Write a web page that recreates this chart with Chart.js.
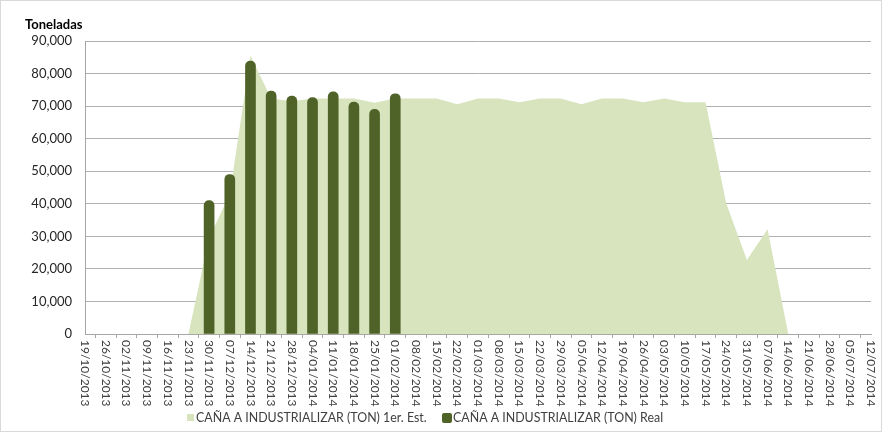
<!DOCTYPE html>
<html>
<head>
<meta charset="utf-8">
<script src="https://cdn.jsdelivr.net/npm/chart.js@4/dist/chart.umd.min.js"></script>
<style>
body{margin:0;background:#fff;}
canvas{display:block;}
</style>
</head>
<body>
<canvas id="grafica" width="882" height="432"></canvas>
<script>
// semanas (eje X)
const semanas = [
"19/10/2013","26/10/2013","02/11/2013","09/11/2013","16/11/2013","23/11/2013","30/11/2013",
"07/12/2013","14/12/2013","21/12/2013","28/12/2013","04/01/2014","11/01/2014","18/01/2014",
"25/01/2014","01/02/2014","08/02/2014","15/02/2014","22/02/2014","01/03/2014","08/03/2014",
"15/03/2014","22/03/2014","29/03/2014","05/04/2014","12/04/2014","19/04/2014","26/04/2014",
"03/05/2014","10/05/2014","17/05/2014","24/05/2014","31/05/2014","07/06/2014","14/06/2014",
"21/06/2014","28/06/2014","05/07/2014","12/07/2014"
];

// CAÑA A INDUSTRIALIZAR (TON) 1er. Est.
const estimado = [
0,0,0,0,0,0,29500,
43000,85500,72300,71500,72300,72300,72300,
71000,72300,72300,72300,70600,72300,72300,
71200,72300,72300,70600,72300,72300,71200,
72300,71200,71200,40200,22700,32200,0,
0,0,0,0
];

// CAÑA A INDUSTRIALIZAR (TON) Real
const real = [
null,null,null,null,null,null,41000,
49000,83800,74600,73100,72600,74400,71200,
69000,73800,null,null,null,null,null,
null,null,null,null,null,null,null,
null,null,null,null,null,null,null,
null,null,null,null
];

const yTicks = [0,10000,20000,30000,40000,50000,60000,70000,80000,90000];

const nombres = ["CAÑA A INDUSTRIALIZAR (TON) 1er. Est.","CAÑA A INDUSTRIALIZAR (TON) Real"];
const colores = ["#d7e4bd","#4f6228"];
const fuente = "Lato, 'Noto Sans', sans-serif";

// fondo, etiquetas giradas, titulo y leyenda
const dibujo = {
id:"dibujo",
beforeDraw(chart){
const ctx=chart.ctx;
ctx.save();
ctx.fillStyle="#fff";
ctx.fillRect(0,0,chart.width,chart.height);
ctx.strokeStyle="#d9d9d9";
ctx.lineWidth=1;
ctx.strokeRect(0.5,0.5,chart.width-1,chart.height-1);
ctx.restore();
},
afterDraw(chart){
const ctx=chart.ctx;
const xs=chart.scales.x;
ctx.save();
ctx.fillStyle="#404040";
ctx.font="12px "+fuente;
ctx.textAlign="left";
ctx.textBaseline="middle";
semanas.forEach((s,i)=>{
const x=xs.getPixelForValue(i);
ctx.save();
ctx.translate(x,340);
ctx.rotate(Math.PI/2);
ctx.fillText(s,0,0);
ctx.restore();
});

// titulo eje Y
ctx.fillStyle="#000";
ctx.font="bold 13px "+fuente;
ctx.fillText("Toneladas",25,25);

// leyenda
ctx.font="12.4px "+fuente;
ctx.fillStyle=colores[0];
ctx.fillRect(187,414,7,7);
ctx.fillStyle="#404040";
ctx.fillText(nombres[0],196,418);
ctx.fillStyle=colores[1];
ctx.beginPath();
ctx.roundRect(442,413,10,10,2);
ctx.fill();
ctx.fillStyle="#404040";
ctx.fillText(nombres[1],453,418);
ctx.restore();
}
};

new Chart(document.getElementById("grafica"),{
type:"bar",
data:{
labels:semanas,
datasets:[
{
type:"line",
label:nombres[0],
data:estimado,
fill:"origin",
backgroundColor:colores[0],
borderWidth:0,
pointRadius:0,
tension:0,
order:2
},
{
type:"bar",
label:nombres[1],
data:real,
backgroundColor:colores[1],
barThickness:10,
borderRadius:{topLeft:5,topRight:5,bottomLeft:0,bottomRight:0},
borderSkipped:"bottom",
order:1
}
]
},
options:{
responsive:false,
animation:false,
layout:{padding:{left:0,right:11,top:41,bottom:94}},
plugins:{legend:{display:false},tooltip:{enabled:false}},
scales:{
x:{
offset:false,
grid:{display:true,drawOnChartArea:false,drawTicks:true,tickLength:4,color:"#a6a6a6"},
border:{display:true,color:"#a6a6a6"},
ticks:{display:false},
afterFit(s){s.height=4;}
},
y:{
min:0,max:90000,
afterBuildTicks(s){s.ticks=yTicks.map(v=>({value:v}));},
grid:{color:"#b0b0b0",drawTicks:false},
border:{display:true,color:"#a6a6a6"},
ticks:{
color:"#262626",
font:{family:fuente,size:13},
padding:13,
callback:v=>v.toLocaleString("en-US")
},
afterFit(s){s.width=85;}
}
}
},
plugins:[dibujo]
});
</script>
</body>
</html>
